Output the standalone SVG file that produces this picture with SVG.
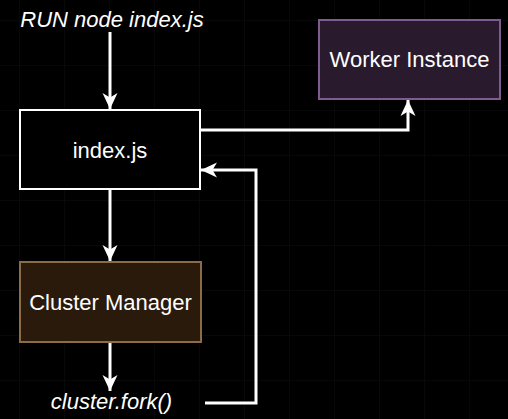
<svg xmlns="http://www.w3.org/2000/svg" width="508" height="419" viewBox="0 0 508 419">
<style>
.t{font-family:"Liberation Sans",Arial,sans-serif;font-size:22px;fill:#ffffff;text-anchor:middle}
.i{font-style:italic}
.c{fill:none;stroke:#ffffff;stroke-width:3}
</style>
<defs>
<pattern id="grid" x="19" y="20" width="45" height="45" patternUnits="userSpaceOnUse">
<path d="M0 0V45M0 0H45" fill="none" stroke="#101010" stroke-width="1"/>
</pattern>
<marker id="ah" markerUnits="userSpaceOnUse" markerWidth="20" markerHeight="20" viewBox="-18 -10 20 20" refX="0" refY="0" orient="auto">
<path d="M0 0L-16 -7.5L-11.5 0L-16 7.5Z" fill="#ffffff"/>
</marker>
</defs>
<rect width="508" height="419" fill="#000000"/>
<rect width="508" height="419" fill="url(#grid)"/>
<g id="connectors">
<path class="c" d="M110 32V109" marker-end="url(#ah)"/>
<path class="c" d="M110 189V261" marker-end="url(#ah)"/>
<path class="c" d="M110 342V391" marker-end="url(#ah)"/>
<path class="c" d="M201 130H408V100" marker-end="url(#ah)"/>
<path class="c" d="M205 403H256V170H201" marker-end="url(#ah)"/>
</g>
<g id="run">
<text class="t i" x="112" y="27">RUN node index.js</text>
</g>
<g id="index">
<rect x="20" y="110" width="180" height="79" fill="#000000" stroke="#ffffff" stroke-width="2"/>
<text class="t" x="110" y="157.5">index.js</text>
</g>
<g id="worker">
<rect x="319" y="20" width="181" height="79" fill="#2a1a2d" stroke="#7f5b8f" stroke-width="2"/>
<text class="t" x="409.5" y="67">Worker Instance</text>
</g>
<g id="cluster">
<rect x="20" y="262" width="181" height="80" fill="#2a1a0b" stroke="#8c6c46" stroke-width="2"/>
<text class="t" x="110.5" y="309.5">Cluster Manager</text>
</g>
<g id="fork">
<text class="t i" x="111.5" y="409">cluster.fork()</text>
</g>
</svg>
